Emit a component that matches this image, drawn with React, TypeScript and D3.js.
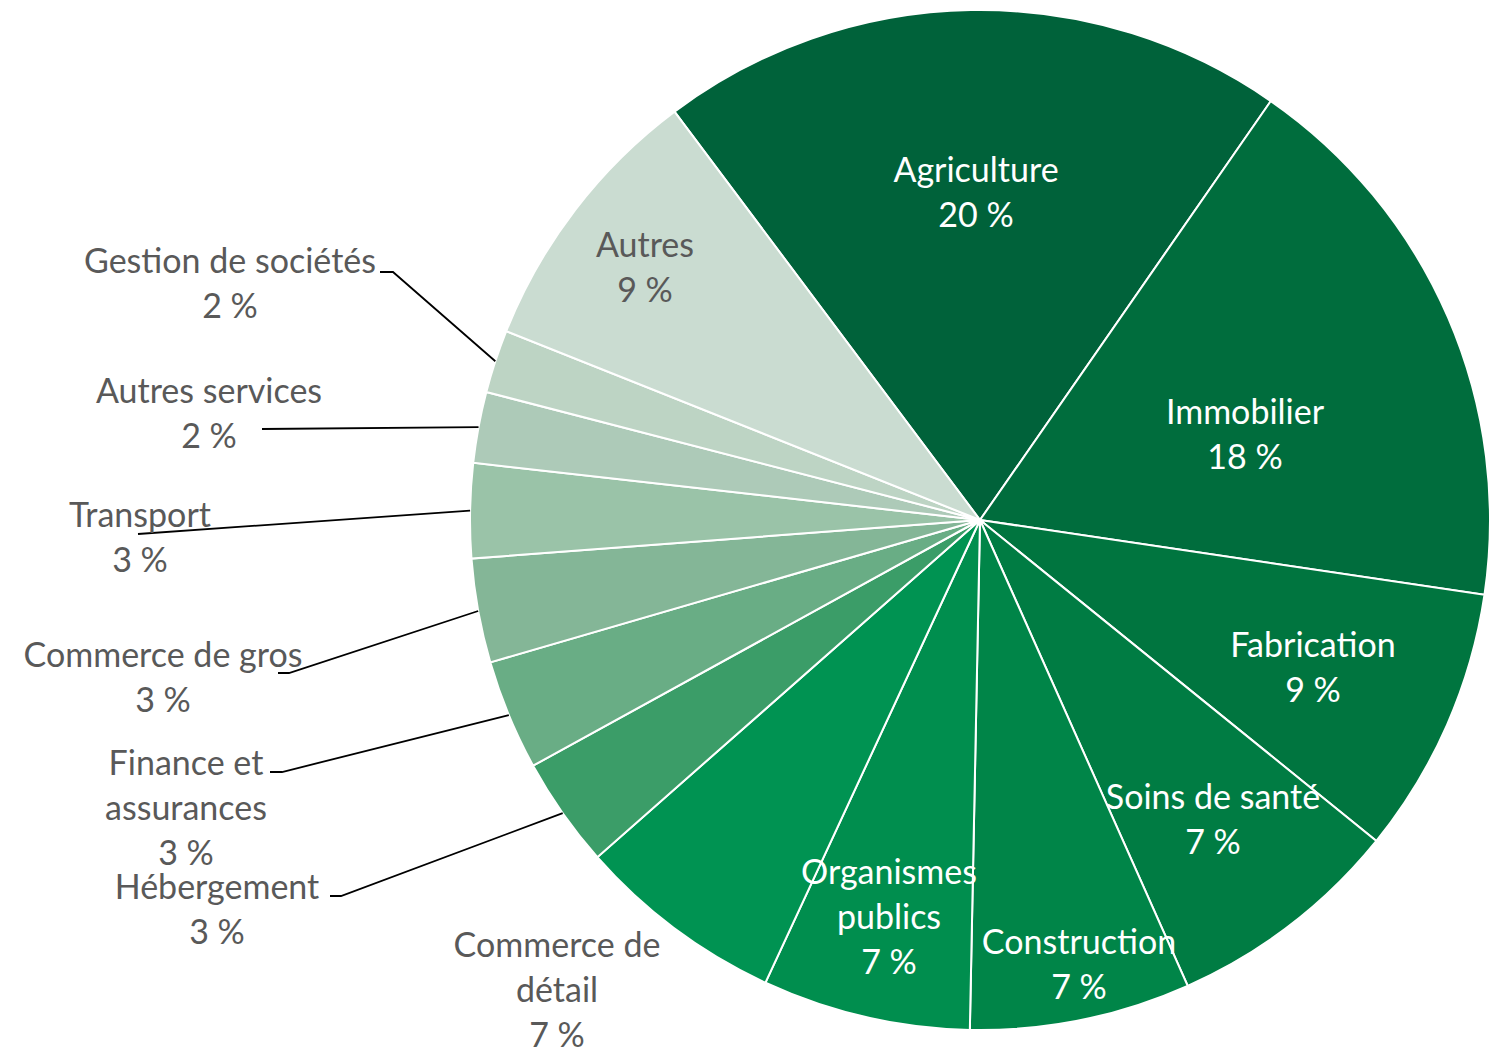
import React from "react";
import * as d3 from "d3";

// secteurs, dans l'ordre du graphique (sens horaire depuis Agriculture)
const categories = [
  "Agriculture",
  "Immobilier",
  "Fabrication",
  "Soins de santé",
  "Construction",
  "Organismes publics",
  "Commerce de détail",
  "Hébergement",
  "Finance et assurances",
  "Commerce de gros",
  "Transport",
  "Autres services",
  "Gestion de sociétés",
  "Autres",
];
const shares = [19.9, 17.7, 8.5, 7.5, 7.0, 6.6, 6.6, 3.5, 3.5, 3.3, 3.0, 2.25, 2.0, 8.75];
const pctLabels = ["20 %", "18 %", "9 %", "7 %", "7 %", "7 %", "7 %", "3 %", "3 %", "3 %", "3 %", "2 %", "2 %", "9 %"];

const colors = [
  "#00623a", "#006d3d", "#00753f", "#007c43", "#008548", "#008e4e", "#009352",
  "#3b9d68", "#69ad85", "#84b697", "#9ac3a8", "#adcab8", "#bdd4c4", "#cadcd1",
];

// mise en page des étiquettes (lignes de texte, ancre, couleur, repère)
const labelLines = [
  ["Agriculture"], ["Immobilier"], ["Fabrication"], ["Soins de santé"], ["Construction"],
  ["Organismes", "publics"], ["Commerce de", "détail"], ["Hébergement"], ["Finance et", "assurances"],
  ["Commerce de gros"], ["Transport"], ["Autres services"], ["Gestion de sociétés"], ["Autres"],
];
const labelAt: [number, number][] = [
  [976, 182], [1245, 424], [1313, 657], [1213, 809], [1079, 954], [889, 884], [557, 957],
  [217, 899], [186, 775], [163, 667], [140, 527], [209, 403], [230, 273], [645, 257],
];
const darkText = [false, false, false, false, false, false, true, true, true, true, true, true, true, true];
// point de départ du trait de rappel côté étiquette (null = pas de trait)
const leaderFrom: ([number, number][] | null)[] = [
  null, null, null, null, null, null, null,
  [[330, 896], [341, 896]],
  [[270, 772], [282, 772]],
  [[278, 673], [289, 673]],
  [[138, 534]],
  [[262, 429]],
  [[380, 272], [393, 272]],
  null,
];

const W = 1490;
const H = 1048;
const cx = 980;
const cy = 520;
const R = 510;

export default function App() {
  const pie = d3.pie<number>()
    .sort(null)
    .value(d => d)
    .startAngle((-36.8 * Math.PI) / 180)
    .endAngle((-36.8 * Math.PI) / 180 + 2 * Math.PI);
  const arcs = pie(shares);
  const arc = d3.arc<d3.PieArcDatum<number>>().innerRadius(0).outerRadius(R);
  const edge = d3.arc<d3.PieArcDatum<number>>().innerRadius(R).outerRadius(R);

  const lh = 45;
  const font = "Lato, 'Open Sans', sans-serif";

  return (
    <svg width={W} height={H} style={{ position: "absolute", left: 0, top: 0 }}
      fontFamily={font}>
      <rect width={W} height={H} fill="#fff" />
      <g transform={`translate(${cx},${cy})`}>
        {arcs.map((a, i) => (
          <path key={categories[i]} d={arc(a) || ""} fill={colors[i]} stroke="#fff" strokeWidth={2} />
        ))}
      </g>
      {arcs.map((a, i) => {
        const from = leaderFrom[i];
        if (!from) return null;
        const [ex, ey] = edge.centroid(a);
        const pts = [...from, [cx + ex, cy + ey]];
        return (
          <path key={"l" + i} d={d3.line()(pts as [number, number][]) || ""}
            fill="none" stroke="#000" strokeWidth={1.8} />
        );
      })}
      {categories.map((c, i) => {
        const [x, y] = labelAt[i];
        const lines = [...labelLines[i], pctLabels[i]];
        return (
          <text key={"t" + c} x={x} y={y} textAnchor="middle" fontSize={34}
            fill={darkText[i] ? "#595959" : "#fff"}>
            {lines.map((s, k) => (
              <tspan key={k} x={x} dy={k === 0 ? 0 : lh}>{s}</tspan>
            ))}
          </text>
        );
      })}
    </svg>
  );
}
